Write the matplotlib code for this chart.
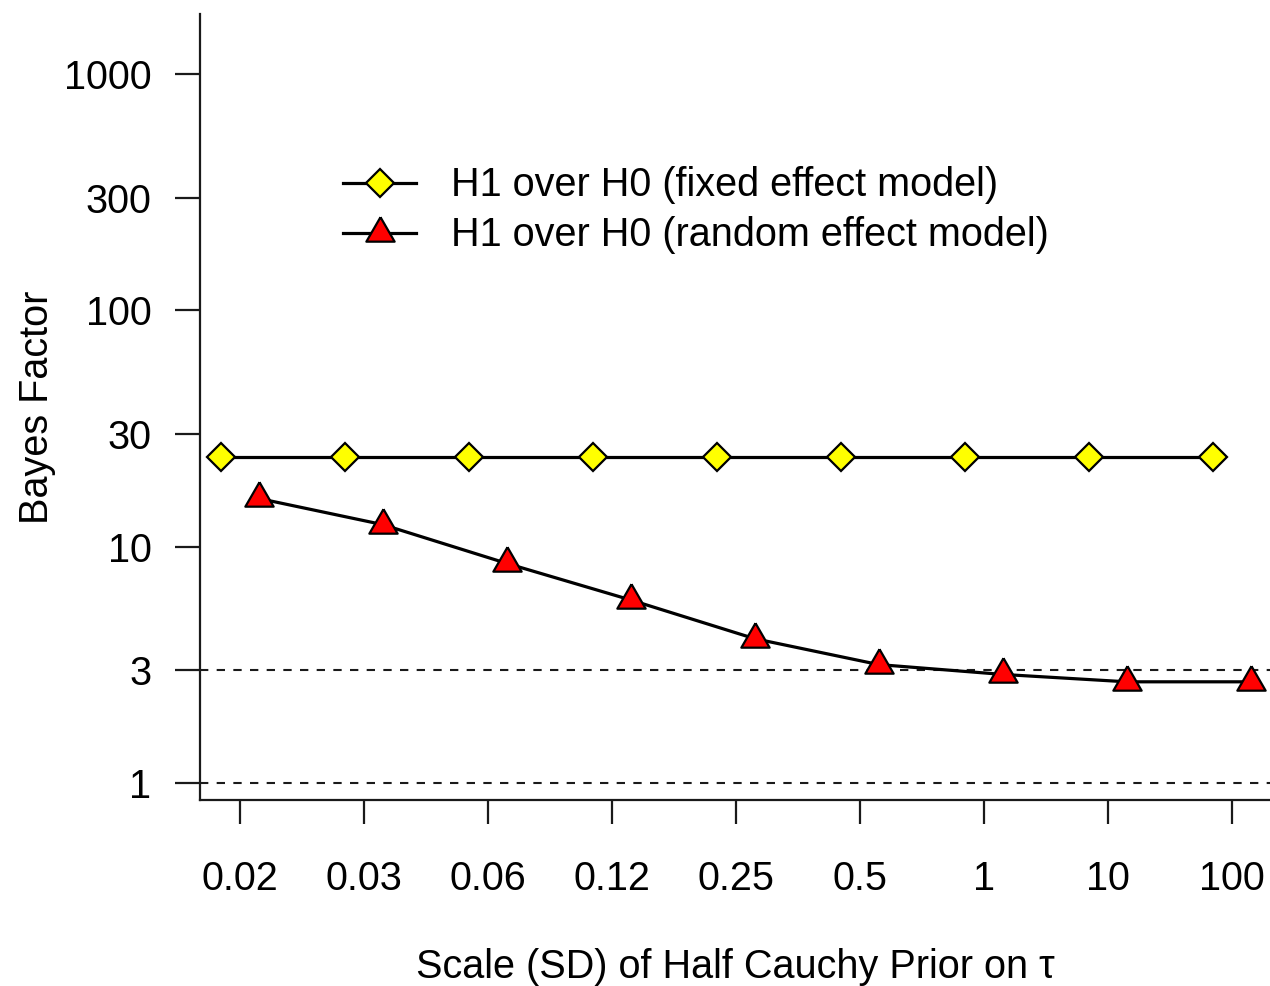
import matplotlib
matplotlib.use('Agg')
import matplotlib.pyplot as plt
from matplotlib.ticker import NullLocator
import numpy as np

# ---- data ----
scale_labels = ['0.02', '0.03', '0.06', '0.12', '0.25', '0.5', '1', '10', '100']
bf_fixed = [24.0, 24.0, 24.0, 24.0, 24.0, 24.0, 24.0, 24.0, 24.0]
bf_random = [16.0, 12.4, 8.5, 5.95, 4.08, 3.17, 2.88, 2.68, 2.68]
y_ticks = [1, 3, 10, 30, 100, 300, 1000]
ref_lines = [1, 3]
label_fixed = 'H1 over H0 (fixed effect model)'
label_random = 'H1 over H0 (random effect model)'

plt.rcParams['font.family'] = ['Liberation Sans', 'DejaVu Sans']
FS = 28.5

fig = plt.figure(figsize=(12.7, 9.86), dpi=100)
ax = fig.add_axes([200 / 1270, 186 / 986, 1070 / 1270, 786 / 986])

x = np.arange(1, len(scale_labels) + 1)
offset = 0.15

ax.set_yscale('log')
ax.set_xlim(0.677, 9.306)
ax.set_ylim(10 ** -0.072, 10 ** 3.254)

for r in ref_lines:
    ax.axhline(r, color='#1a1a1a', lw=1.5, ls=(0, (4.0, 4.0)), zorder=1)

tri = [(0, 0.577), (0.5, -0.289), (-0.5, -0.289), (0, 0.577)]

ax.plot(x - offset, bf_fixed, color='black', lw=2.3, marker='D', ms=14.5,
        mfc='#FFFF00', mec='black', mew=1.6, label=label_fixed, zorder=3)
ax.plot(x + offset, bf_random, color='black', lw=2.3, marker=tri, ms=23.5,
        mfc='#FF0000', mec='black', mew=1.6, label=label_random, zorder=3)

ax.set_xticks(x, labels=scale_labels)
ax.set_yticks(y_ticks, labels=[str(v) for v in y_ticks])
ax.yaxis.set_minor_locator(NullLocator())
ax.tick_params(axis='x', length=17.5, width=1.6, pad=26, labelsize=FS, color='#1a1a1a')
ax.tick_params(axis='y', length=18, width=1.6, pad=17, labelsize=FS, color='#1a1a1a')

for s in ['top', 'right']:
    ax.spines[s].set_visible(False)
for s in ['left', 'bottom']:
    ax.spines[s].set_linewidth(1.6)
    ax.spines[s].set_color('#1a1a1a')

ax.set_ylabel('Bayes Factor', fontsize=FS, va='center')
ax.yaxis.set_label_coords(-0.152, 0.5)
ax.set_xlabel('Scale (SD) of Half Cauchy Prior on τ', fontsize=FS, va='center')
ax.xaxis.set_label_coords(0.5, -0.212)

ax.legend(loc='upper left', bbox_to_anchor=(0.1336, 0.806), frameon=False,
          borderpad=0, borderaxespad=0, handlelength=1.85, handletextpad=0.88,
          labelspacing=0.3, fontsize=FS, numpoints=1)

fig.savefig('out.png', dpi=100)
